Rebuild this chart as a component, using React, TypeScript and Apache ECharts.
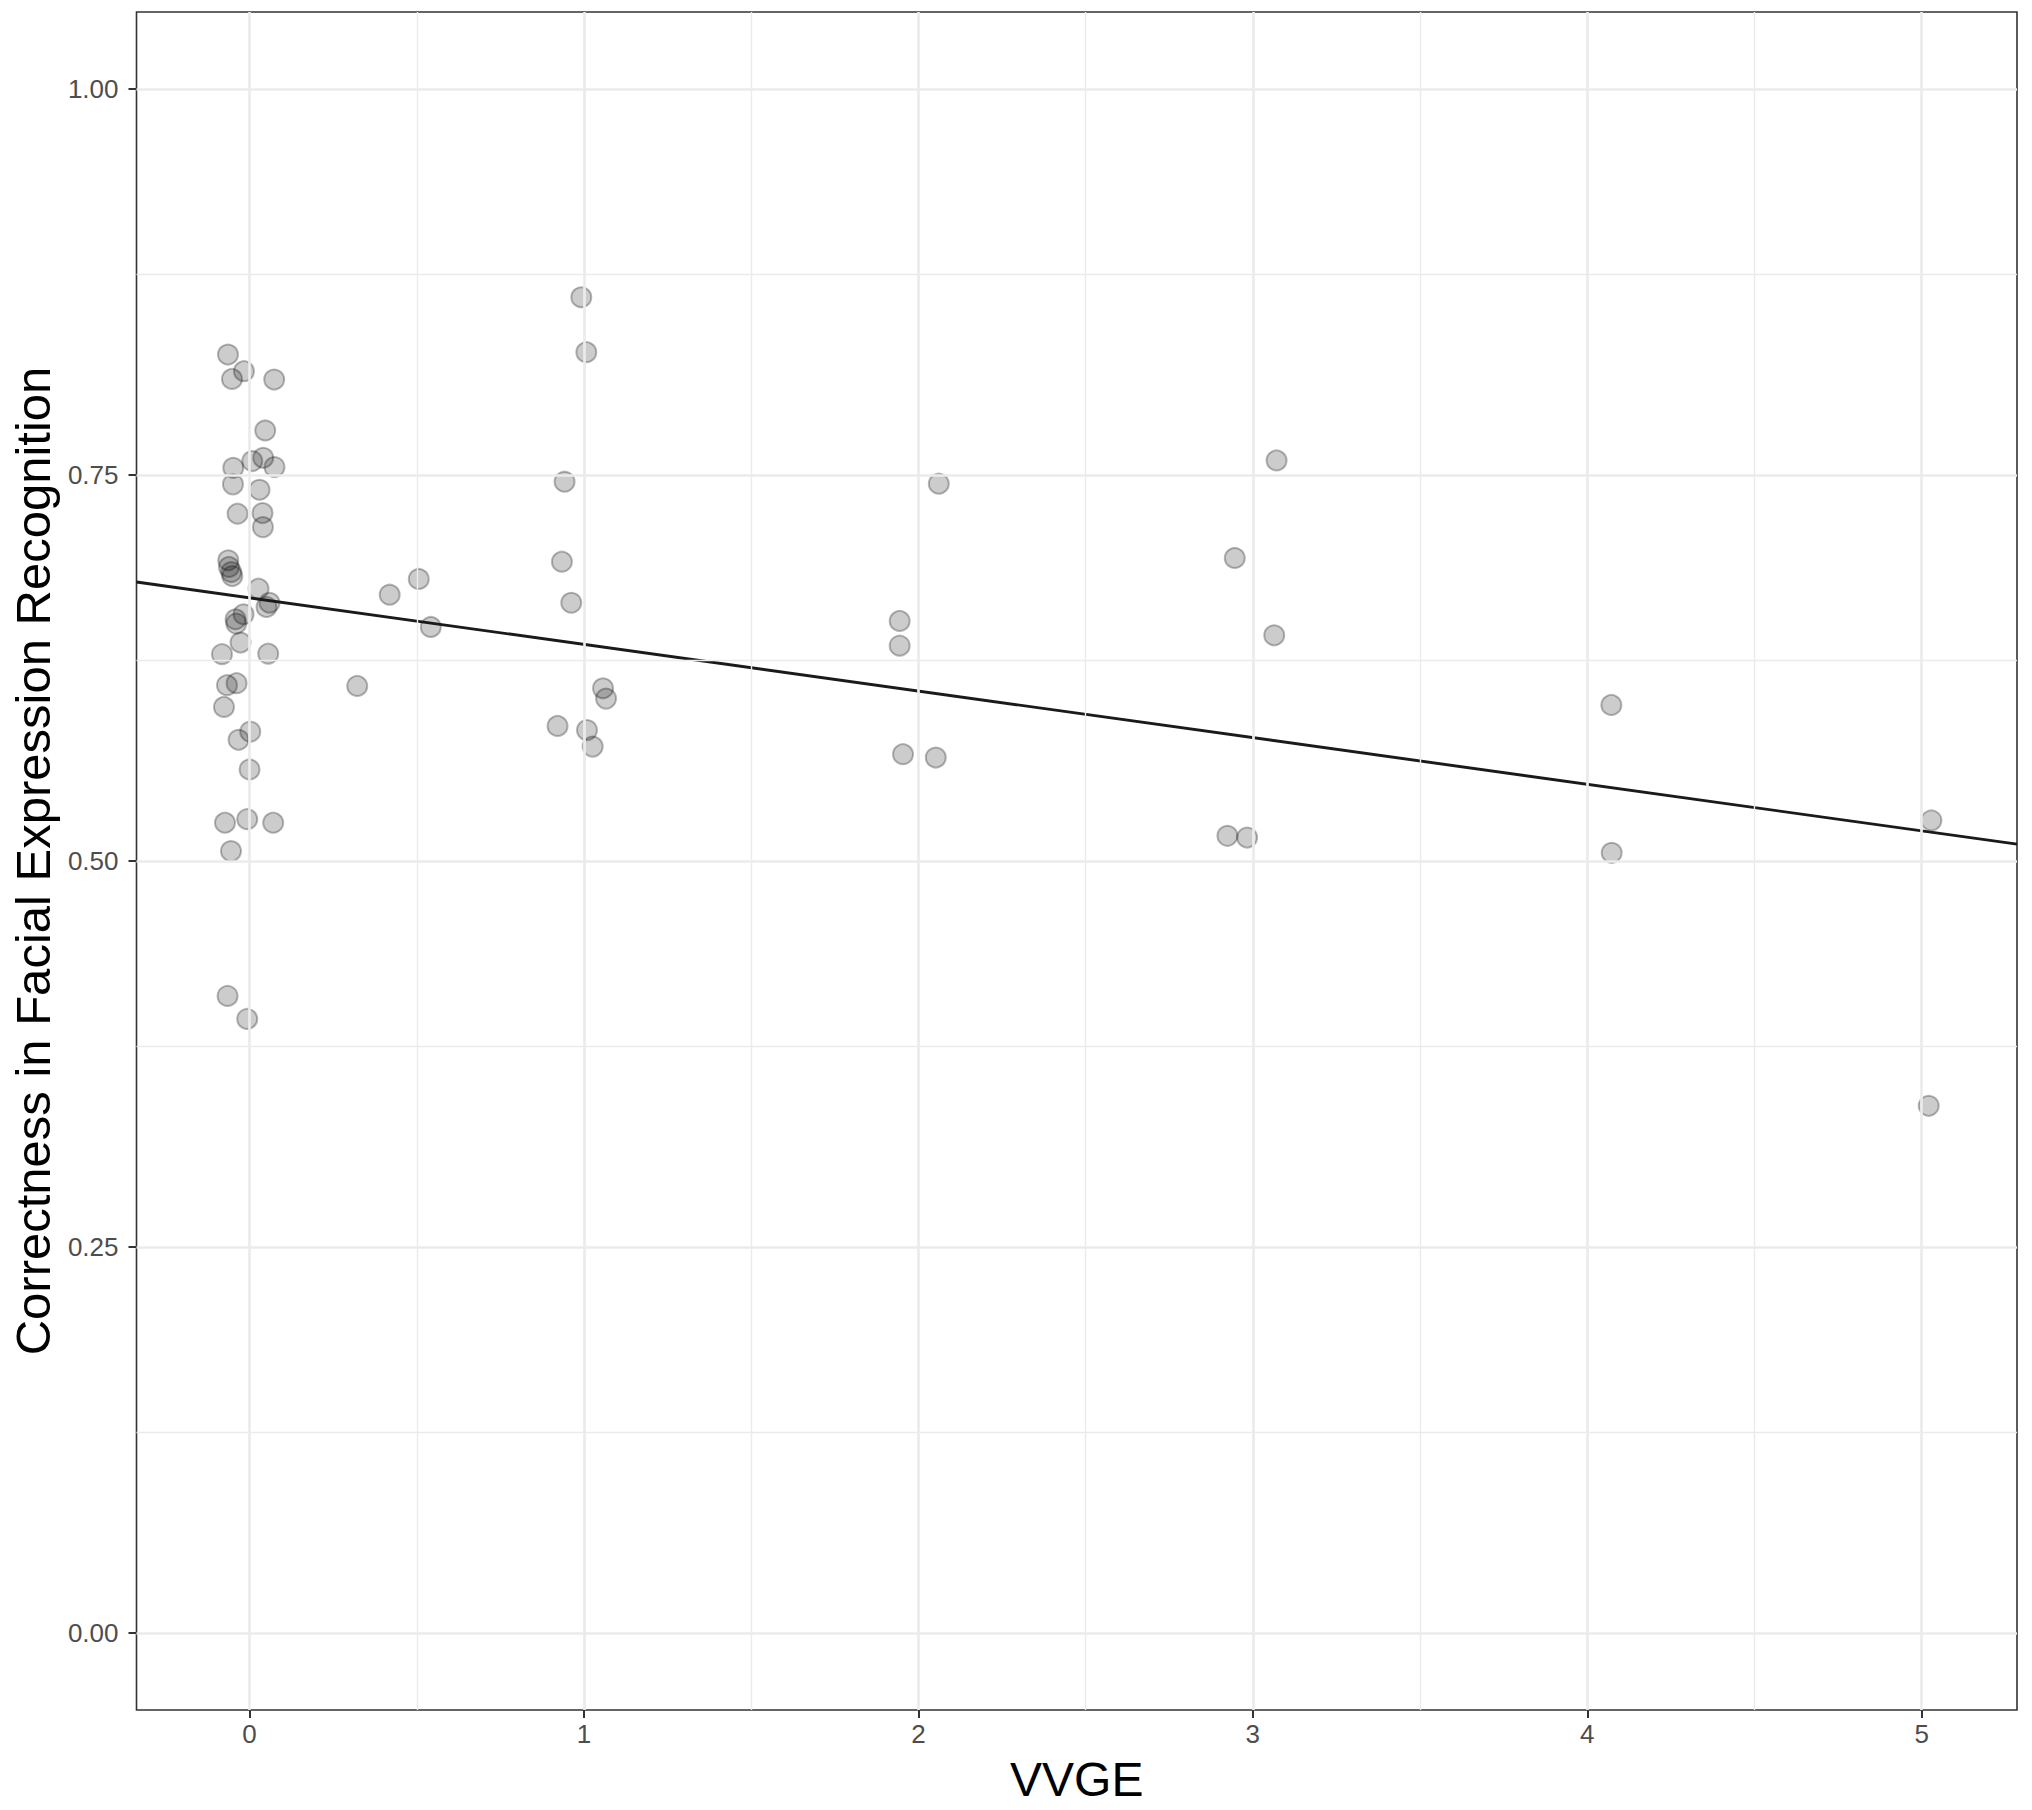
import React, { useEffect, useRef } from "react";
import * as echarts from "echarts";

// ---- data ----
const vvge: number[] = [
  -0.0645, -0.0167, -0.0525, 0.0737, 0.0469, 0.0081, 0.0409, 0.0746, -0.0487, -0.0496,
  0.0299, -0.0358, 0.0388, 0.04, -0.0636, -0.0615, -0.0546, -0.0516, 0.0269, 0.0597,
  0.0507, -0.0179, -0.0418, -0.0397, -0.0269, -0.0824, 0.0558, -0.0388, -0.0675, -0.0764,
  0.0021, -0.0328, 0.0, -0.0734, -0.0069, 0.0707, -0.0555, -0.0657, -0.0069,
  0.322, 0.419, 0.506, 0.542,
  0.992, 1.007, 0.942, 0.934, 0.962, 1.057, 1.066, 0.921, 1.009, 1.026,
  2.061, 1.944, 1.944, 1.954, 2.052,
  3.071, 2.946, 3.064, 2.924, 2.983,
  4.072, 4.073,
  5.029, 5.021,
];
const correctness: number[] = [
  0.8281, 0.8173, 0.8123, 0.8119, 0.7789, 0.7591, 0.7612, 0.7552, 0.7547, 0.744,
  0.7405, 0.725, 0.7254, 0.7163, 0.6948, 0.6905, 0.6872, 0.6846, 0.6764, 0.6673,
  0.6646, 0.6598, 0.6566, 0.6538, 0.6415, 0.634, 0.6343, 0.6152, 0.6139, 0.5998,
  0.5838, 0.5785, 0.5593, 0.5248, 0.5271, 0.5248, 0.5064, 0.4126, 0.3977,
  0.6134, 0.6725, 0.6827, 0.6516,
  0.8652, 0.8296, 0.7457, 0.6939, 0.6673, 0.6119, 0.6052, 0.5875, 0.5848, 0.5741,
  0.7444, 0.6555, 0.6395, 0.5692, 0.567,
  0.7595, 0.6963, 0.6462, 0.5163, 0.5152,
  0.6011, 0.5053,
  0.5263, 0.3414,
];
const fitIntercept = 0.6705;
const fitSlope = -0.0302;

const xTicks = [0, 1, 2, 3, 4, 5];
const xMinorTicks = [0.5, 1.5, 2.5, 3.5, 4.5];
const yTicks = [0, 0.25, 0.5, 0.75, 1];
const yMinorTicks = [0.125, 0.375, 0.625, 0.875];
const xRange = [-0.338, 5.285];
const yRange = [-0.05, 1.05];

const xTitle = "VVGE";
const yTitle = "Correctness in Facial Expression Recognition";

const FONT = "'Liberation Sans', Arial, Helvetica, sans-serif";

export default function App() {
  const ref = useRef<HTMLDivElement>(null);
  useEffect(() => {
    if (!ref.current) return;
    const chart = echarts.init(ref.current, undefined, { renderer: "svg" });
    const points = vvge.map((x, i) => [x, correctness[i]]);
    const fitLine = xRange.map((x) => [x, fitIntercept + fitSlope * x]);
    const major = { color: "#EBEBEB", width: 2.7, type: "solid" };
    const minor = { color: "#EBEBEB", width: 1.4, type: "solid" };
    const gridLines = [
      ...xMinorTicks.map((v) => ({ xAxis: v, lineStyle: minor })),
      ...yMinorTicks.map((v) => ({ yAxis: v, lineStyle: minor })),
      ...xTicks.map((v) => ({ xAxis: v, lineStyle: major })),
      ...yTicks.map((v) => ({ yAxis: v, lineStyle: major })),
    ];
    chart.setOption({
      animation: false,
      backgroundColor: "#FFFFFF",
      textStyle: { fontFamily: FONT },
      grid: {
        left: 135,
        right: 15,
        top: 12,
        bottom: 100,
        show: true,
        borderColor: "#333333",
        borderWidth: 1.6,
      },
      xAxis: {
        type: "value",
        min: xRange[0],
        max: xRange[1],
        position: "bottom",
        name: xTitle,
        nameLocation: "middle",
        nameGap: 45,
        nameTextStyle: { fontSize: 48, color: "#000000", fontFamily: FONT },
        axisLine: { show: false, onZero: false },
        splitLine: { show: false },
        axisTick: {
          show: true,
          length: 8,
          customValues: xTicks,
          lineStyle: { color: "#333333", width: 2 },
        },
        axisLabel: {
          customValues: xTicks,
          fontSize: 26,
          color: "#4D4D4D",
          margin: 11,
          fontFamily: FONT,
          formatter: (v: number) => String(v),
        },
      },
      yAxis: {
        type: "value",
        min: yRange[0],
        max: yRange[1],
        position: "left",
        name: yTitle,
        nameLocation: "middle",
        nameGap: 79,
        nameTextStyle: { fontSize: 49, color: "#000000", fontFamily: FONT },
        axisLine: { show: false, onZero: false },
        splitLine: { show: false },
        axisTick: {
          show: true,
          length: 8,
          customValues: yTicks,
          lineStyle: { color: "#333333", width: 2 },
        },
        axisLabel: {
          customValues: yTicks,
          fontSize: 26,
          color: "#4D4D4D",
          margin: 18,
          fontFamily: FONT,
          formatter: (v: number) => v.toFixed(2),
        },
      },
      series: [
        {
          type: "scatter",
          data: [],
          z: 1,
          silent: true,
          markLine: {
            silent: true,
            symbol: ["none", "none"],
            label: { show: false },
            emphasis: { disabled: true },
            data: gridLines,
          },
        },
        {
          type: "scatter",
          data: points,
          z: 3,
          symbol: "circle",
          symbolSize: 20,
          itemStyle: {
            color: "rgba(0,0,0,0.2)",
            borderColor: "rgba(0,0,0,0.28)",
            borderWidth: 2,
            opacity: 1,
          },
        },
        {
          type: "line",
          data: fitLine,
          z: 4,
          showSymbol: false,
          symbol: "none",
          lineStyle: { color: "#1A1A1A", width: 2.9 },
        },
      ],
    });
    return () => chart.dispose();
  }, []);
  return (
    <div
      ref={ref}
      style={{ position: "absolute", left: 0, top: 0, width: 2032, height: 1810 }}
    />
  );
}
